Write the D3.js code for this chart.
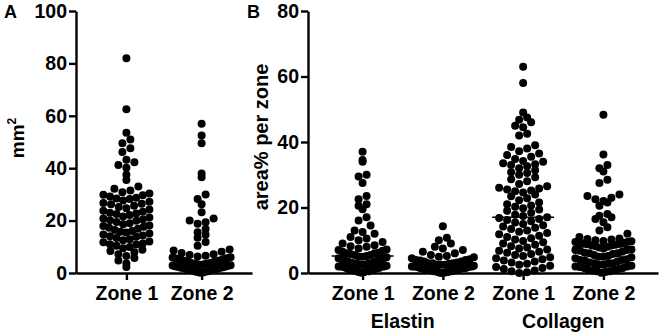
<!DOCTYPE html>
<html>
<head>
<meta charset="utf-8">
<script src="https://cdn.jsdelivr.net/npm/d3@7"></script>
<style>
  html, body { margin: 0; padding: 0; background: #fff; }
  svg { display: block; font-family: "Liberation Sans", Arial, sans-serif; font-weight: bold; }
</style>
</head>
<body>
<div id="chart"></div>
<script>
// --- data
const zonesA = ['Zone 1', 'Zone 2'];
const ticksA = [0, 20, 40, 60, 80, 100];
const areaZone1 = [82, 62.5, 53.5, 51, 49.5, 47.6, 46.2, 43.2, 42.3, 41.2, 40.2, 37.5, 35.5,
  33, 32.2, 31.5, 30.8, 30.3, 29.9, 29.7, 29.2, 28.7, 28.4, 28.2, 27.7, 27.2, 26.7, 26.4, 26.2, 25.7,
  25.2, 24.7, 24.2, 23.8, 23.4, 23, 22.7, 22.5, 22.1, 21.6, 21.2, 20.8, 20.4, 20.1, 19.9, 19.5, 19,
  18.6, 18.1, 17.9, 17.7, 17.3, 16.9, 16.4, 16, 15.7, 15.5, 15.1, 14.7, 14.3, 14, 13.8, 13.4, 12.9,
  12.5, 12, 11.7, 11.3, 11, 10.9, 10.4, 9.9, 9.4, 8.9, 8.4, 7.9, 7.2, 6.5, 5.7, 4.8, 3.6, 2.3];
const areaZone2 = [57, 52.5, 49.5, 38, 36.5, 30, 28.2, 26.2, 23.2, 20.8, 20, 19.4, 18.8, 16.8, 15.6,
  14.6, 13.5, 11.8, 10.4, 9, 8.6, 8.1, 7.6, 7.2, 6.9, 6.6, 6.3, 6, 5.9, 5.7, 5.6, 5.4, 5.3, 5.1, 5,
  4.8, 4.7, 4.5, 4.4, 4.2, 4, 3.9, 3.7, 3.6, 3.5, 3.4, 3.3, 3.2, 3.1, 3, 2.9, 2.8, 2.6, 2.5, 2.4,
  2.2, 2.1, 2, 1.9, 1.7, 1.6, 1.5, 1.3, 1.2, 1.1, 1, 0.9, 0.7, 0.6, 0.5, 0.4, 0.2, 0.1];
const widthsA = [54, 66];

const groupsB = ['Elastin Zone 1', 'Elastin Zone 2', 'Collagen Zone 1', 'Collagen Zone 2'];
const tickLabelsB = ['Zone 1', 'Zone 2', 'Zone 1', 'Zone 2'];
const stainsB = ['Elastin', 'Collagen'];
const ticksB = [0, 20, 40, 60, 80];
const elastinZone1 = [37, 34.5, 34, 30, 29.5, 27.5, 23.5, 22.5, 21, 20.5, 19.5, 17, 16, 14.5, 13,
  12.5, 12, 11, 10.5, 10, 9.5, 9, 8.5, 8.2, 8, 7.5, 7.2, 7, 6.8, 6.5, 6.2, 6, 6, 5.8, 5.5, 5.5, 5.2,
  5, 5, 4.8, 4.5, 4.5, 4.2, 4, 4, 3.8, 3.5, 3.5, 3.2, 3, 3, 3, 2.8, 2.5, 2.5, 2.5, 2.2, 2, 2, 2, 2,
  1.8, 1.5, 1.5, 1.5, 1.2, 1, 1, 1, 0.8, 0.5, 0.5, 0.5, 0.3, 0.2, 0.1];
const elastinZone2 = [14.3, 10.8, 10, 9, 8, 7.5, 7, 6.5, 6, 5.5, 5.2, 5, 4.8, 4.5, 4.2, 4, 4, 3.8,
  3.5, 3.5, 3.2, 3, 3, 3, 2.8, 2.5, 2.5, 2.5, 2.2, 2, 2, 2, 2, 2, 1.8, 1.8, 1.5, 1.5, 1.5, 1.5, 1.5,
  1.2, 1.2, 1, 1, 1, 1, 1, 0.8, 0.8, 0.5, 0.5, 0.5, 0.5, 0.3, 0.3, 0.2, 0.1, 0.1, 0];
const collagenZone1 = [63, 58, 49, 47.5, 46.8, 46, 45, 44.5, 42.5, 42, 39, 38.5, 38, 37.2, 36.5, 36,
  35.5, 34.8, 34.2, 34, 33.5, 33.2, 33, 32.6, 32, 31.4, 30.8, 30.5, 30, 29.2, 28.6, 28, 27.2, 26.5,
  26, 25.8, 25.5, 25.2, 25, 24.6, 24, 23.4, 22.8, 22.2, 21.5, 21, 20.6, 20.2, 19.8, 19.4, 19, 18.4,
  17.8, 17.4, 17, 16.8, 16.5, 16.2, 15.8, 15.4, 15, 14.6, 14.2, 13.8, 13.4, 13, 12.6, 12.2, 11.8,
  11.4, 11, 10.6, 10.2, 9.8, 9.4, 9, 8.6, 8.2, 7.8, 7.5, 7.2, 6.8, 6.5, 6.2, 5.8, 5.5, 5.2, 4.8, 4.5,
  4.2, 3.8, 3.5, 3.2, 2.8, 2.5, 2.2, 1.8, 1.5, 1.2, 0.8, 0.5, 0.2, 0];
const collagenZone2 = [48.3, 36.2, 33, 32, 31, 28.5, 27.5, 24, 23.5, 23, 22.5, 22, 21.5, 20.5, 18,
  17.5, 17, 16.5, 15.5, 14, 13, 12, 11, 10.5, 10.4, 10.2, 10, 9.8, 9.7, 9.5, 9.5, 9.2, 9.2, 9, 8.9,
  8.8, 8.6, 8.5, 8.4, 8.2, 8, 7.8, 7.5, 7.2, 7, 7, 6.8, 6.5, 6.2, 6, 6, 5.8, 5.5, 5.2, 5, 5, 4.8,
  4.5, 4.2, 4, 4, 3.8, 3.5, 3.2, 3, 3, 2.8, 2.5, 2.5, 2.2, 2, 2, 1.8, 1.5, 1.5, 1.2, 1, 1, 0.8, 0.5,
  0.5, 0.3, 0.1];
const mediansB = [5.2, 1.8, 17, 8];
const widthsB = [56, 70, 62, 64];

const seriesA = [areaZone1, areaZone2];
const seriesB = [elastinZone1, elastinZone2, collagenZone1, collagenZone2];

// --- layout
const width = 664, height = 336;
const plotTop = 11, plotBottom = 273;
const r = 4;
const fontSize = 19.5;

const svg = d3.select('#chart').append('svg')
  .attr('width', width)
  .attr('height', height)
  .attr('viewBox', `0 0 ${width} ${height}`);

svg.append('rect').attr('width', width).attr('height', height).attr('fill', '#fff');

// prism-like scatter: points binned into rows one dot high, each row spread
// sideways from the centre; rows squeeze together when wider than maxW
function swarm(values, cx, y, maxW) {
  const h = 2 * r;
  const rows = d3.group(values.map(v => ({ v, y: y(v) })), d => Math.floor((plotBottom - d.y) / h));
  const out = [];
  for (const [, pts] of rows) {
    pts.sort((a, b) => a.v - b.v);
    const n = pts.length;
    const s = n > 1 ? Math.min(2 * r, (maxW - 2 * r) / (n - 1)) : 0;
    const slots = d3.range(n).map(k => (k - (n - 1) / 2) * s)
      .sort((a, b) => Math.abs(a) - Math.abs(b) || a - b);
    pts.forEach((p, i) => { p.x = cx + slots[i]; out.push(p); });
  }
  return out;
}

function styleAxis(sel) {
  sel.selectAll('.domain').attr('stroke', '#000').attr('stroke-width', 2.4);
  sel.selectAll('.tick line').attr('stroke', '#000').attr('stroke-width', 2.4);
  sel.selectAll('.tick text')
    .attr('fill', '#000')
    .style('font-size', fontSize + 'px')
    .style('font-weight', 'bold')
    .style('font-family', '"Liberation Sans", Arial, sans-serif');
}

// --- panel A
const yA = d3.scaleLinear().domain([0, 100]).range([plotBottom, plotTop]);
const xA = d3.scalePoint().domain(zonesA).range([76, 252]).padding(0.67);

const gA = svg.append('g');

gA.append('g')
  .attr('transform', `translate(0,${plotBottom})`)
  .call(d3.axisBottom(xA).tickSize(7).tickSizeOuter(0).tickPadding(6))
  .call(styleAxis);

gA.append('g')
  .attr('transform', 'translate(76,0)')
  .call(d3.axisLeft(yA).tickValues(ticksA).tickSize(7).tickSizeOuter(0).tickPadding(2))
  .call(styleAxis);

seriesA.forEach((vals, i) => {
  gA.append('g').selectAll('circle')
    .data(swarm(vals, xA(zonesA[i]), yA, widthsA[i]))
    .join('circle')
    .attr('cx', d => d.x)
    .attr('cy', d => d.y)
    .attr('r', r)
    .attr('fill', '#000');
});

const titleA = gA.append('text')
  .attr('transform', 'translate(24,138) rotate(-90)')
  .attr('text-anchor', 'middle')
  .style('font-size', '19px');
titleA.append('tspan').text('mm');
titleA.append('tspan').attr('dy', -8).style('font-size', '12px').text('2');

svg.append('text')
  .attr('x', 4).attr('y', 18)
  .style('font-size', '18px')
  .text('A');

// --- panel B
const yB = d3.scaleLinear().domain([0, 80]).range([plotBottom, plotTop]);
const xB = d3.scalePoint().domain(groupsB).range([308, 658]).padding(0.68);

const gB = svg.append('g');

gB.append('g')
  .attr('transform', `translate(0,${plotBottom})`)
  .call(d3.axisBottom(xB).tickSize(7).tickSizeOuter(0).tickPadding(6)
    .tickFormat((d, i) => tickLabelsB[i]))
  .call(styleAxis);

gB.append('g')
  .attr('transform', 'translate(308,0)')
  .call(d3.axisLeft(yB).tickValues(ticksB).tickSize(7).tickSizeOuter(0).tickPadding(2))
  .call(styleAxis);

seriesB.forEach((vals, i) => {
  gB.append('g').selectAll('circle')
    .data(swarm(vals, xB(groupsB[i]), yB, widthsB[i]))
    .join('circle')
    .attr('cx', d => d.x)
    .attr('cy', d => d.y)
    .attr('r', r)
    .attr('fill', '#000');
});

// median lines
gB.append('g').selectAll('line')
  .data(mediansB)
  .join('line')
  .attr('x1', (d, i) => xB(groupsB[i]) - 31)
  .attr('x2', (d, i) => xB(groupsB[i]) + 31)
  .attr('y1', d => yB(d))
  .attr('y2', d => yB(d))
  .attr('stroke', '#000')
  .attr('stroke-width', 1.5);

// stain labels under each pair of zones
gB.append('g').selectAll('text')
  .data(stainsB)
  .join('text')
  .attr('x', (d, i) => (xB(groupsB[2 * i]) + xB(groupsB[2 * i + 1])) / 2)
  .attr('y', 328)
  .attr('text-anchor', 'middle')
  .style('font-size', fontSize + 'px')
  .text(d => d);

gB.append('text')
  .attr('transform', 'translate(268,137) rotate(-90)')
  .attr('text-anchor', 'middle')
  .style('font-size', '20px')
  .text('area% per zone');

svg.append('text')
  .attr('x', 247).attr('y', 18)
  .style('font-size', '18px')
  .text('B');
</script>
</body>
</html>
